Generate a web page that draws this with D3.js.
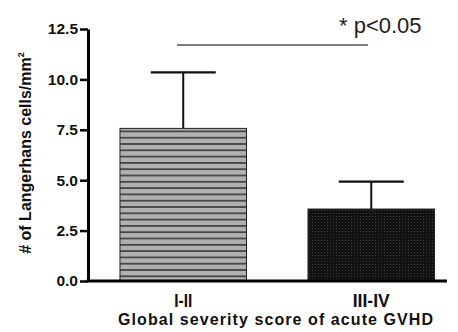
<!DOCTYPE html>
<html><head><meta charset="utf-8">
<script src="https://cdn.jsdelivr.net/npm/d3@7"></script>
<style>body{margin:0;background:#fff}svg{display:block}</style>
</head><body>
<svg id="c" width="458" height="332"></svg>
<script>
const categories = ["I-II", "III-IV"];
const means = [7.57, 3.57];
const errors = [2.78, 1.36];
const yTicks = [0, 2.5, 5.0, 7.5, 10.0, 12.5];
const sigLabel = "* p<0.05";
const xTitle = "Global severity score of acute GVHD";

const FONT = "Liberation Sans, Arial, sans-serif";
const svg = d3.select("#c");
const defs = svg.append("defs");
const p1 = defs.append("pattern").attr("id","hstripe").attr("patternUnits","userSpaceOnUse")
  .attr("width",8).attr("height",6.3);
p1.append("rect").attr("width",8).attr("height",6.3).attr("fill","#b0b0b0");
p1.append("rect").attr("y",4.6).attr("width",8).attr("height",1.6).attr("fill","#3a3a3a");
const p2 = defs.append("pattern").attr("id","dots").attr("patternUnits","userSpaceOnUse")
  .attr("width",3).attr("height",3);
p2.append("rect").attr("width",3).attr("height",3).attr("fill","#111");
p2.append("rect").attr("width",1).attr("height",1).attr("fill","#3a3a3a");

const x0 = 88, xEnd = 447;
const y = d3.scaleLinear().domain([0,12.5]).range([281,29]);
const x = d3.scaleBand().domain(categories).range([88,466.5]).paddingInner(0.327).paddingOuter(0.17);
const fills = ["url(#hstripe)","url(#dots)"];

svg.selectAll("rect.bar").data(categories).join("rect")
  .attr("x", d=>x(d)).attr("width", x.bandwidth())
  .attr("y", (d,i)=>y(means[i])).attr("height",(d,i)=>y(0)-y(means[i]))
  .attr("fill",(d,i)=>fills[i]).attr("stroke","#222").attr("stroke-width",1);

categories.forEach((c,i)=>{
  const cx = x(c)+x.bandwidth()/2;
  svg.append("line").attr("x1",cx).attr("x2",cx).attr("y1",y(means[i])).attr("y2",y(means[i]+errors[i]))
    .attr("stroke","#111").attr("stroke-width",2);
  svg.append("line").attr("x1",cx-32.5).attr("x2",cx+32.5).attr("y1",y(means[i]+errors[i])).attr("y2",y(means[i]+errors[i]))
    .attr("stroke","#111").attr("stroke-width",2.2);
});

const yAxis = d3.axisLeft(y).tickValues(yTicks).tickFormat(d3.format(".1f")).tickSize(8).tickSizeOuter(0);
const ga = svg.append("g").attr("transform",`translate(${x0},0)`).call(yAxis);
ga.select(".domain").attr("stroke","#000").attr("stroke-width",3);
ga.selectAll(".tick line").attr("stroke","#000").attr("stroke-width",2.5);
ga.selectAll(".tick text").attr("x",-10).attr("fill","#111")
  .style("font-family",FONT).style("font-weight","bold").style("font-size","15.5px");

svg.append("line").attr("x1",x0-1.5).attr("x2",xEnd).attr("y1",y(0)).attr("y2",y(0))
  .attr("stroke","#000").attr("stroke-width",3);

const catW = [18, 37];
svg.selectAll("text.cat").data(categories).join("text")
  .attr("x",(d,i)=>x(d)+x.bandwidth()/2 - catW[i]/2).attr("y",307)
  .attr("textLength",(d,i)=>catW[i]).attr("lengthAdjust","spacingAndGlyphs")
  .style("font-family",FONT).style("font-weight","bold").style("font-size","19px")
  .attr("fill","#111").text(d=>d);

svg.append("text").attr("x",118).attr("y",325)
  .attr("textLength",315).attr("lengthAdjust","spacing")
  .style("font-family",FONT).style("font-weight","bold").style("font-size","16px")
  .attr("fill","#111").text(xTitle);

const yt = svg.append("text").attr("transform","translate(31,153) rotate(-90)").attr("text-anchor","middle")
  .style("font-family",FONT).style("font-weight","bold").style("font-size","16px")
  .attr("fill","#111");
yt.append("tspan").text("# of Langerhans cells/mm");
yt.append("tspan").attr("dy",-7).style("font-size","9px").text("2");

svg.append("line").attr("x1",177).attr("x2",368).attr("y1",45).attr("y2",45).attr("stroke","#555").attr("stroke-width",1.5);
svg.append("text").attr("x",339).attr("y",33)
  .style("font-family",FONT).style("font-size","22px").attr("fill","#222")
  .text(sigLabel);
</script>
</body></html>
